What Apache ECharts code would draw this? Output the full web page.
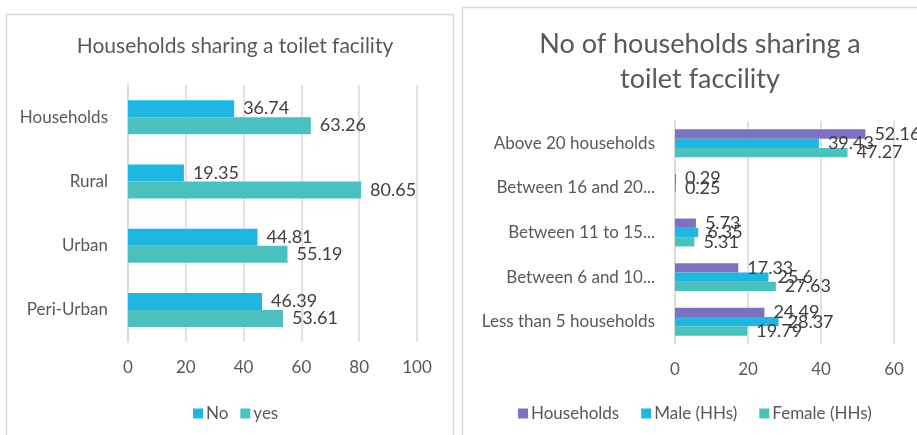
<!DOCTYPE html>
<html>
<head>
<meta charset="utf-8">
<script src="https://cdn.jsdelivr.net/npm/echarts@6/dist/echarts.min.js"></script>
<style>
  html, body { margin: 0; padding: 0; background: #fff; }
  #chart { width: 917px; height: 435px; }
</style>
</head>
<body>
<div id="chart"></div>
<script>
// Left panel: share of households with a shared toilet, by settlement type
const areaCategories = ['Households', 'Rural', 'Urban', 'Peri-Urban'];
const sharedNo = [36.74, 19.35, 44.81, 46.39];
const sharedYes = [63.26, 80.65, 55.19, 53.61];
const areaTicks = [0, 20, 40, 60, 80, 100];

// Right panel: how many households share one toilet
const groupCategories = ['Above 20 households', 'Between 16 and 20 households', 'Between 11 to 15 households', 'Between 6 and 10 households', 'Less than 5 households'];
const hhAll = [52.16, 0.29, 5.73, 17.33, 24.49];
const hhMale = [39.43, 0.25, 6.35, 25.6, 28.37];
const hhFemale = [47.27, null, 5.31, 27.63, 19.79];
const groupTicks = [0, 20, 40, 60];

const FONT = 'Lato, "Open Sans", sans-serif';
const TEXT = '#595959';
const GRID = '#d9d9d9';
const C_CYAN = '#1fb6e0';
const C_TEAL = '#4bc1bf';
const C_PURPLE = '#7b72c2';

// Long "Between ..." labels are cut after the range
function shorten(s) {
  return s.indexOf('Between') === 0 ? s.replace(' households', '...') : s;
}

function valueAxis(gridIndex, ticks) {
  return {
    type: 'value', gridIndex,
    min: ticks[0], max: ticks[ticks.length - 1], interval: ticks[1] - ticks[0],
    axisLine: { show: false }, axisTick: { show: false },
    splitLine: { lineStyle: { color: GRID, width: 1.5 } },
    axisLabel: { color: TEXT, fontSize: 17, fontFamily: FONT, margin: 17 }
  };
}

function catAxis(gridIndex, cats, fmt) {
  return {
    type: 'category', gridIndex, data: cats, inverse: true,
    axisLine: { lineStyle: { color: GRID, width: 1.5 } },
    axisTick: { show: false },
    axisLabel: { color: TEXT, fontSize: 17, fontFamily: FONT, margin: 20, formatter: fmt }
  };
}

function barSeries(name, data, color, xi, width) {
  return {
    name, type: 'bar', data, xAxisIndex: xi, yAxisIndex: xi,
    barWidth: width, barGap: '0%',
    itemStyle: { color },
    label: {
      show: true, position: 'right', distance: 9,
      color: '#404040', fontSize: 18, fontFamily: FONT,
      formatter: p => (p.value == null ? '' : String(p.value))
    }
  };
}

const chart = echarts.init(document.getElementById('chart'), null, { renderer: 'canvas' });
chart.setOption({
  animation: false,
  backgroundColor: '#fff',
  graphic: [
    { type: 'rect', shape: { x: 6.5, y: 14.5, width: 447, height: 440 }, style: { fill: 'none', stroke: GRID, lineWidth: 1.5 }, silent: true },
    { type: 'rect', shape: { x: 462.5, y: 7.5, width: 470, height: 440 }, style: { fill: 'none', stroke: GRID, lineWidth: 1.5 }, silent: true }
  ],
  title: [
    {
      text: 'Households sharing a toilet facility',
      left: 230, top: 31, textAlign: 'center',
      textStyle: { color: TEXT, fontSize: 21, fontWeight: 'normal', fontFamily: FONT }
    },
    {
      text: 'No of households sharing a\ntoilet faccility',
      left: 695, top: 22, textAlign: 'center',
      textStyle: { color: TEXT, fontSize: 27, fontWeight: 'normal', fontFamily: FONT, lineHeight: 35 }
    }
  ],
  legend: [
    {
      data: ['No', 'yes'], left: 188, top: 400, orient: 'horizontal',
      itemWidth: 10, itemHeight: 10, itemGap: 12, icon: 'rect',
      textStyle: { color: TEXT, fontSize: 17, fontFamily: FONT, padding: [0, 0, 0, -2] }
    },
    {
      data: ['Households', 'Male (HHs)', 'Female (HHs)'], left: 513, top: 400, orient: 'horizontal',
      itemWidth: 10, itemHeight: 10, itemGap: 22, icon: 'rect',
      textStyle: { color: TEXT, fontSize: 17, fontFamily: FONT, padding: [0, 0, 0, -2] }
    }
  ],
  grid: [
    { left: 128, top: 85, width: 289, height: 257 },
    { left: 675, top: 121, width: 219, height: 223 }
  ],
  xAxis: [valueAxis(0, areaTicks), valueAxis(1, groupTicks)],
  yAxis: [catAxis(0, areaCategories), catAxis(1, groupCategories, shorten)],
  series: [
    barSeries('No', sharedNo, C_CYAN, 0, 17),
    barSeries('yes', sharedYes, C_TEAL, 0, 17),
    barSeries('Households', hhAll, C_PURPLE, 1, 9.3),
    barSeries('Male (HHs)', hhMale, C_CYAN, 1, 9.3),
    barSeries('Female (HHs)', hhFemale, C_TEAL, 1, 9.3)
  ]
});
</script>
</body>
</html>
